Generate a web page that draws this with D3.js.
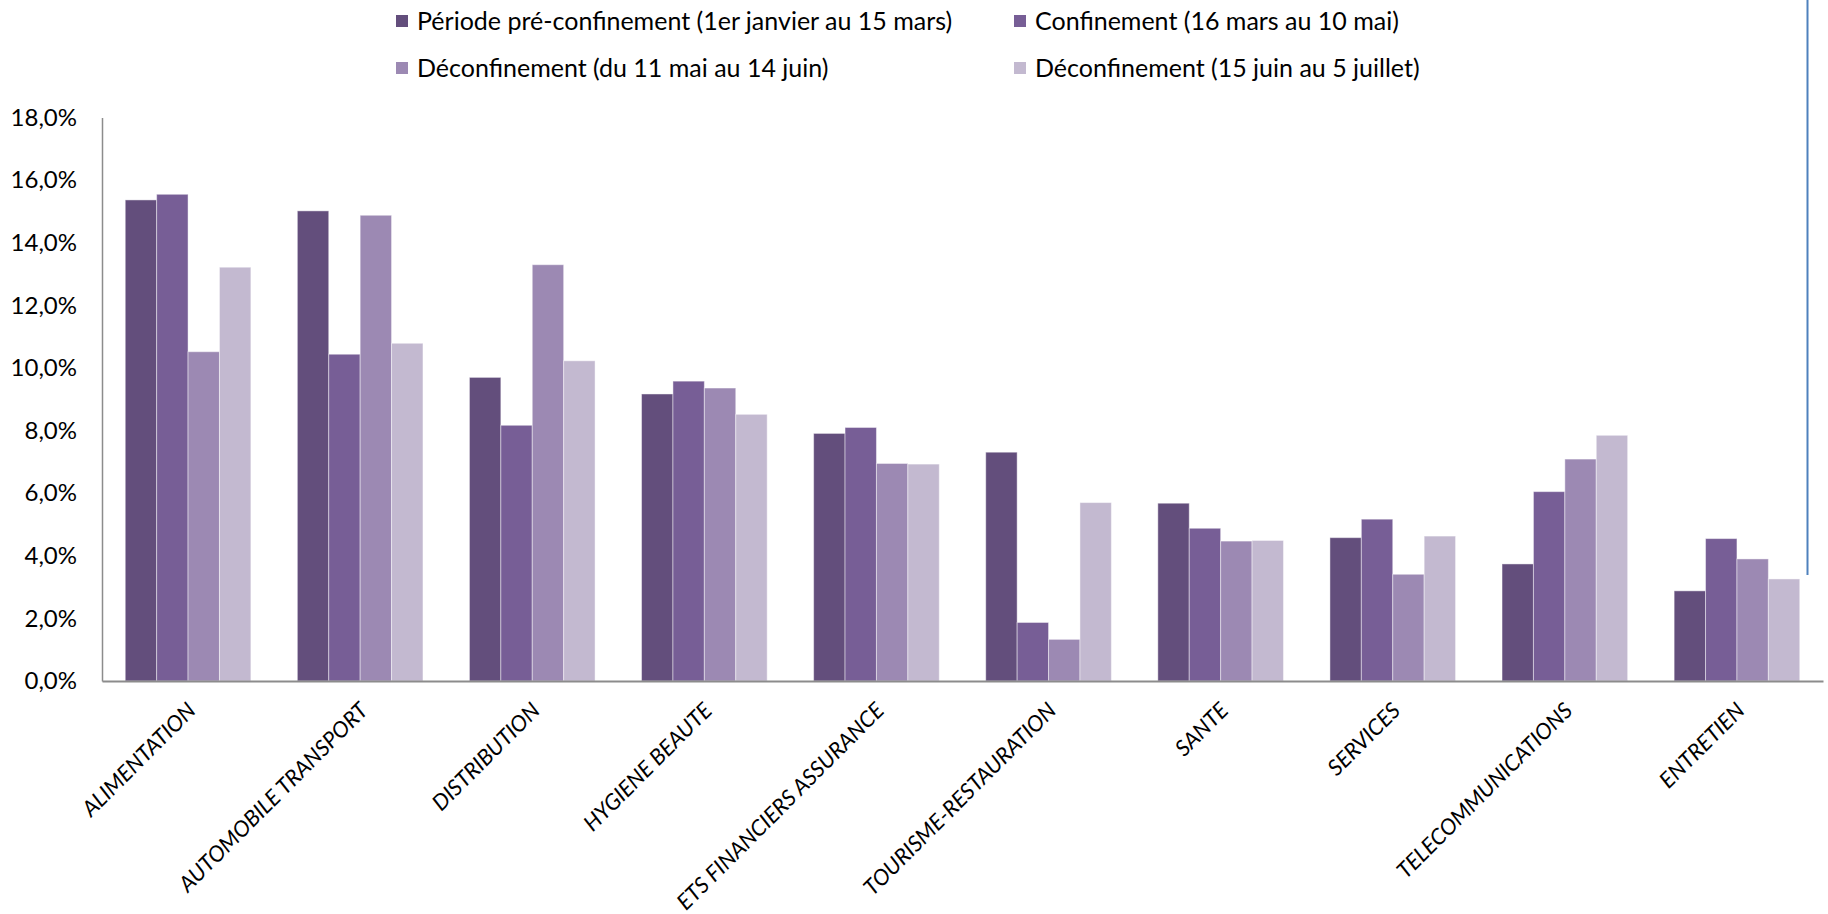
<!DOCTYPE html>
<html lang="fr">
<head>
<meta charset="utf-8">
<title>Répartition par secteur et par période</title>
<script src="https://cdn.jsdelivr.net/npm/d3@7"></script>
<style>
  html, body { margin: 0; padding: 0; background: #ffffff; }
  svg { display: block; }
  text { font-family: Lato, "Open Sans", sans-serif; fill: #000; }
</style>
</head>
<body>
<svg id="chart" width="1828" height="914"></svg>
<script>
// Secteurs (catégories)
const categories = [
  "ALIMENTATION", "AUTOMOBILE TRANSPORT", "DISTRIBUTION", "HYGIENE BEAUTE",
  "ETS FINANCIERS ASSURANCE", "TOURISME-RESTAURATION", "SANTE", "SERVICES",
  "TELECOMMUNICATIONS", "ENTRETIEN"
];

// Libellés des séries
const seriesNames = [
  "Période pré-confinement (1er janvier au 15 mars)",
  "Confinement (16 mars au 10 mai)",
  "Déconfinement (du 11 mai au 14 juin)",
  "Déconfinement (15 juin au 5 juillet)"
];

// Parts (en %) par secteur pour chaque période
const preConfinement = [15.37, 15.02, 9.70, 9.17, 7.91, 7.31, 5.68, 4.58, 3.74, 2.88];
const confinement    = [15.55, 10.44, 8.17, 9.58, 8.10, 1.87, 4.88, 5.17, 6.05, 4.55];
const deconfMaiJuin  = [10.52, 14.88, 13.30, 9.36, 6.95, 1.33, 4.47, 3.41, 7.09, 3.90];
const deconfJuinJuil = [13.22, 10.79, 10.23, 8.52, 6.93, 5.70, 4.49, 4.63, 7.85, 3.26];

// Graduations de l'axe vertical
const yTicks = [0, 2, 4, 6, 8, 10, 12, 14, 16, 18];

const seriesValues = [preConfinement, confinement, deconfMaiJuin, deconfJuinJuil];
const colors = ["#634e7c", "#775e96", "#9c89b3", "#c3b9d0"];

const svg = d3.select("#chart");

const plot = { left: 102, right: 1823, top: 117.6, bottom: 681 };

const x0 = d3.scaleBand()
  .domain(categories)
  .range([plot.left, plot.right])
  .paddingInner(0.27)
  .paddingOuter(0.135);

const x1 = d3.scaleBand()
  .domain(d3.range(seriesNames.length))
  .range([0, x0.bandwidth()]);

const y = d3.scaleLinear()
  .domain([0, 18])
  .range([plot.bottom, plot.top]);

// Barres groupées
const groups = svg.append("g")
  .selectAll("g")
  .data(categories)
  .join("g")
  .attr("transform", d => `translate(${x0(d)},0)`);

groups.selectAll("rect")
  .data((d, i) => seriesValues.map((vals, s) => ({ s, v: vals[i] })))
  .join("rect")
  .attr("x", d => x1(d.s))
  .attr("width", x1.bandwidth())
  .attr("y", d => y(d.v))
  .attr("height", d => y(0) - y(d.v))
  .attr("fill", d => colors[d.s])
  .attr("stroke", "#ffffff")
  .attr("stroke-opacity", 0.45)
  .attr("stroke-width", 1);

// Axe vertical
const yAxis = svg.append("g")
  .attr("transform", `translate(${plot.left},0)`)
  .call(d3.axisLeft(y)
    .tickValues(yTicks)
    .tickSize(0)
    .tickSizeOuter(0)
    .tickPadding(25)
    .tickFormat(d => d.toFixed(1).replace(".", ",") + "%"));
yAxis.select(".domain").attr("stroke", "#8c8c8c").attr("stroke-width", 1.5);
yAxis.selectAll("text")
  .attr("font-family", "Lato, 'Open Sans', sans-serif")
  .attr("font-size", 24)
  .attr("fill", "#000");

// Axe horizontal
const xAxis = svg.append("g")
  .attr("transform", `translate(0,${plot.bottom})`)
  .call(d3.axisBottom(x0).tickSize(0).tickSizeOuter(0));
xAxis.select(".domain").attr("stroke", "#8c8c8c").attr("stroke-width", 2);
xAxis.selectAll("text")
  .attr("font-family", "Lato, 'Open Sans', sans-serif")
  .attr("font-style", "italic")
  .attr("font-size", 22)
  .attr("fill", "#000")
  .attr("text-anchor", "end")
  .attr("x", 0)
  .attr("y", 0)
  .attr("dy", 0)
  .attr("transform", "translate(9,31) rotate(-45)");

// Légende sur deux colonnes
const legendPos = [
  { x: 396, y: 21 }, { x: 1014, y: 21 },
  { x: 396, y: 68 }, { x: 1014, y: 68 }
];
const legend = svg.append("g")
  .selectAll("g")
  .data(seriesNames)
  .join("g")
  .attr("transform", (d, i) => `translate(${legendPos[i].x},${legendPos[i].y})`);
legend.append("rect")
  .attr("x", 0).attr("y", -6).attr("width", 12).attr("height", 12)
  .attr("fill", (d, i) => colors[i]);
legend.append("text")
  .attr("x", 21)
  .attr("dy", "0.35em")
  .attr("font-size", 25)
  .text(d => d);

// Trait bleu à droite
svg.append("line")
  .attr("x1", 1807.5).attr("x2", 1807.5)
  .attr("y1", 0).attr("y2", 575)
  .attr("stroke", "#4f81bd")
  .attr("stroke-width", 2);
</script>
</body>
</html>
